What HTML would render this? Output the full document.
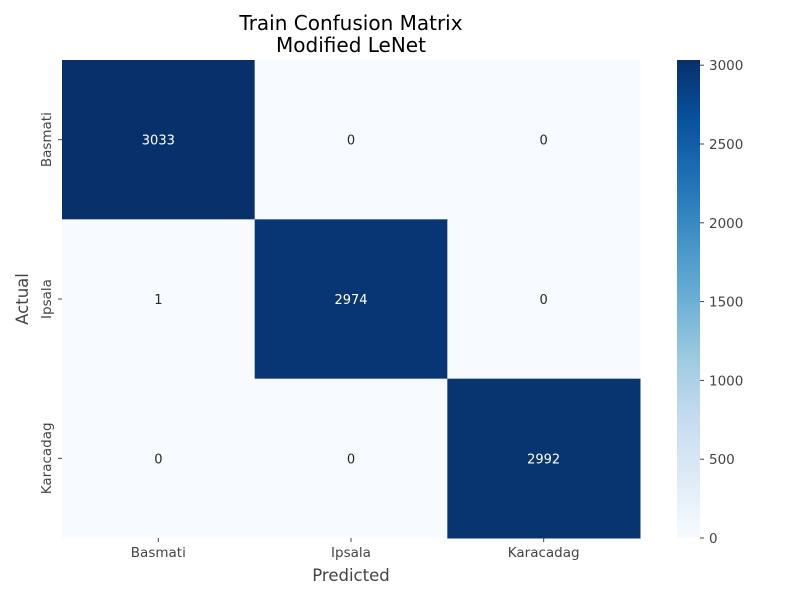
<!DOCTYPE html>
<html><head><meta charset="utf-8"><style>
html,body{margin:0;padding:0;background:#fff;}
svg{display:block;font-family:"DejaVu Sans","Liberation Sans",sans-serif;}
</style></head><body>
<svg id="chart" width="800" height="600">
<defs><linearGradient id="blues" x1="0" y1="1" x2="0" y2="0">
<stop offset="0" stop-color="#f7fbff"/><stop offset="0.125" stop-color="#deebf7"/><stop offset="0.25" stop-color="#c6dbef"/><stop offset="0.375" stop-color="#9ecae1"/><stop offset="0.5" stop-color="#6baed6"/><stop offset="0.625" stop-color="#4292c6"/><stop offset="0.75" stop-color="#2171b5"/><stop offset="0.875" stop-color="#08519c"/><stop offset="1" stop-color="#08306b"/>
</linearGradient></defs>
<text x="351" y="30" text-anchor="middle" font-size="20" fill="#000">Train Confusion Matrix</text>
<text x="351" y="52" text-anchor="middle" font-size="20" fill="#000">Modified LeNet</text>
<g id="cells"></g>
<g id="xticks"></g><g id="yticks"></g>
<text x="351" y="581" text-anchor="middle" font-size="16.5" fill="#444">Predicted</text>
<text transform="translate(28,299) rotate(-90)" text-anchor="middle" font-size="16.5" fill="#444">Actual</text>
<rect x="677" y="60" width="23" height="478" fill="url(#blues)"/>
<g id="cbticks"></g>
</svg>
<script>
const categories = ["Basmati","Ipsala","Karacadag"];
const matrix = [[3033,0,0],[1,2974,0],[0,0,2992]];
const cbTicks = [0,500,1000,1500,2000,2500,3000];
const vmin = 0, vmax = 3033;
const X0=62, X1=640, Y0=60, Y1=538;
const cw=(X1-X0)/categories.length, ch=(Y1-Y0)/categories.length;
const stops=[[247,251,255],[222,235,247],[198,219,239],[158,202,225],[107,174,214],[66,146,198],[33,113,181],[8,81,156],[8,48,107]];
function color(v){let t=(v-vmin)/(vmax-vmin);t=Math.max(0,Math.min(1,t))*(stops.length-1);const i=Math.min(Math.floor(t),stops.length-2),f=t-i;const c=stops[i].map((a,k)=>Math.round(a+(stops[i+1][k]-a)*f));return `rgb(${c})`;}
const NS="http://www.w3.org/2000/svg";
function mk(tag,attrs,parent){const e=document.createElementNS(NS,tag);for(const k in attrs)e.setAttribute(k,attrs[k]);parent.appendChild(e);return e;}
const cells=document.getElementById('cells');
matrix.forEach((row,r)=>row.forEach((v,c)=>{
 const rc=mk('rect',{x:X0+c*cw,y:Y0+r*ch,width:cw+0.5,height:ch+0.5,fill:color(v)},cells);
 
 
 const t=mk('text',{x:X0+(c+0.5)*cw,y:Y0+(r+0.5)*ch+5,'text-anchor':'middle','font-size':13,fill:(v-vmin)/(vmax-vmin)>0.5?'#fff':'#262626'},cells);
 t.textContent=v;
 
 
}));
const xt=document.getElementById('xticks'), yt=document.getElementById('yticks');
categories.forEach((cat,i)=>{
 const cx=X0+(i+0.5)*cw;
 mk('line',{x1:cx,x2:cx,y1:Y1,y2:Y1+4,stroke:'#444'},xt);
 const t=mk('text',{x:cx,y:Y1+19,'text-anchor':'middle','font-size':13.5,fill:'#444'},xt);
 t.textContent=cat;
 
 
 const cy=Y0+(i+0.5)*ch;
 mk('line',{x1:X0-4,x2:X0,y1:cy,y2:cy,stroke:'#444'},yt);
 const u=mk('text',{transform:`translate(${X0-11},${cy}) rotate(-90)`,'text-anchor':'middle','font-size':13.5,fill:'#444'},yt);
 u.textContent=cat;
 
 
});
const cb=document.getElementById('cbticks');
cbTicks.forEach(v=>{
 const y=Y1-(v-vmin)/(vmax-vmin)*(Y1-Y0);
 mk('line',{x1:700,x2:704,y1:y,y2:y,stroke:'#444'},cb);
 const t=mk('text',{x:709,y:y+5,'font-size':13.5,fill:'#444'},cb);
 t.textContent=v;
 
 
});
</script>
</body></html>
